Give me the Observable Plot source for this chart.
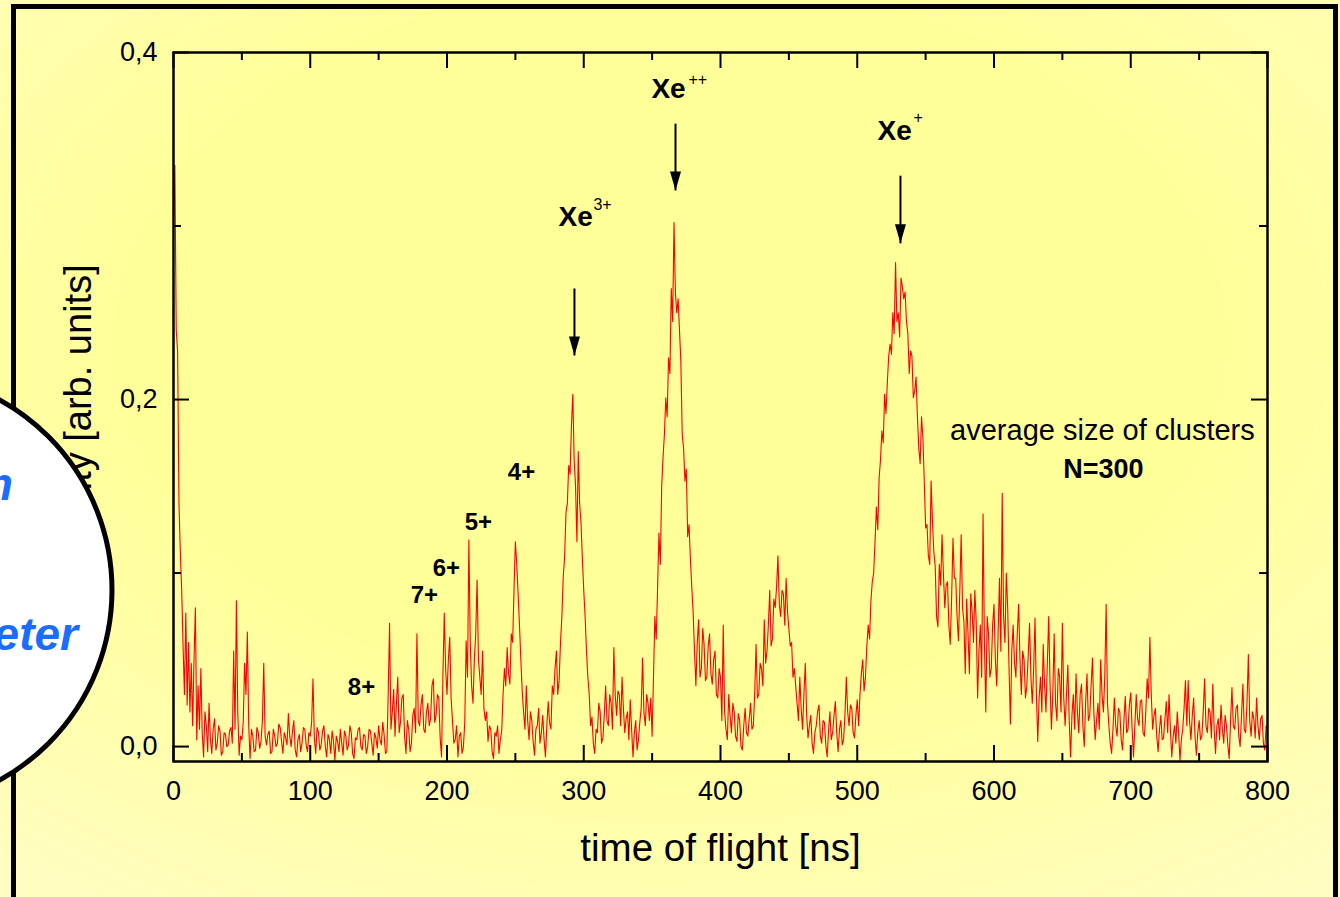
<!DOCTYPE html>
<html><head><meta charset="utf-8">
<script src="https://cdn.jsdelivr.net/npm/d3@7"></script>
<script src="https://cdn.jsdelivr.net/npm/@observablehq/plot@0.6"></script>
<style>
html,body{margin:0;padding:0;background:#fffdb8;}
#wrap{position:relative;width:1340px;height:897px;overflow:hidden;
 background: radial-gradient(ellipse 80% 78% at 50% 38%, #ffff99 50%, #fffdc2 100%);
 font-family:"Liberation Sans", Arial, sans-serif;}
#border{position:absolute;left:11px;top:4px;width:1317px;height:900px;border-left:5px solid #000;border-top:5px solid #000;border-right:5px solid #000;}
#chart{position:absolute;left:0;top:0;}
#overlay{position:absolute;left:0;top:0;pointer-events:none;}
</style></head>
<body>
<div id="wrap"><div id="border"></div><div id="chart"></div><svg id="overlay" width="1340" height="897"></svg></div>
<script>
const sampleStepNs = 1;
const intensity = [
0.30,0.335,0.24,0.228,0.14,0.112,0.09,0.058,0.03,0.077,0.024,0.06,0.02,0.048,0.012,0.05,0.08,0.004,0.035,0.01,
0.045,0.008,-0.006,0.020,0.012,-0.003,0.025,0.004,-0.004,0.010,0.016,-0.002,0.002,0.012,0.009,-0.005,-0.003,0.008,0.007,0.000,
0.001,0.009,0.011,0.002,0.055,0.010,0.084,0.020,-0.005,0.006,0.004,0.014,0.048,0.030,0.066,0.012,-0.007,0.010,0.006,-0.003,
-0.002,0.011,0.008,-0.001,0.003,0.015,0.048,0.006,0.001,0.007,0.009,-0.004,-0.003,0.010,0.006,0.000,0.002,0.013,0.011,0.003,
-0.004,0.008,0.005,0.001,0.019,0.006,0.000,0.009,0.015,-0.002,-0.006,0.004,0.007,-0.003,0.002,0.011,0.010,0.001,-0.003,0.008,
0.006,0.014,0.039,0.005,-0.004,0.011,0.008,-0.002,0.001,0.009,0.012,0.000,-0.006,0.007,0.004,-0.004,0.009,0.003,-0.008,0.006,
0.003,-0.003,0.010,0.002,-0.005,0.009,0.006,-0.002,0.001,0.012,0.008,-0.004,-0.007,0.005,0.004,0.010,0.011,0.000,-0.002,0.007,
0.006,-0.004,0.000,0.010,0.009,0.002,-0.005,0.008,0.005,-0.001,0.012,0.004,0.001,0.014,0.007,-0.004,-0.003,0.030,0.071,0.010,
0.020,0.033,0.006,0.025,0.040,0.008,0.014,0.028,0.030,0.006,-0.004,0.015,0.010,-0.003,0.002,0.018,0.022,0.008,0.065,0.015,
0.012,0.024,0.030,0.010,0.008,0.020,0.025,0.012,0.016,0.035,0.039,0.014,0.018,0.030,0.028,0.005,-0.006,0.040,0.077,0.045,
0.030,0.050,0.063,0.028,0.015,0.002,0.004,0.012,-0.006,0.006,0.008,-0.004,0.000,0.014,0.061,0.040,0.119,0.060,0.035,0.025,
0.050,0.065,0.096,0.050,0.040,0.030,0.055,0.022,0.015,0.020,0.003,0.012,0.010,-0.003,-0.007,0.008,0.006,0.012,-0.004,0.004,
0.009,0.030,0.045,0.035,0.057,0.042,0.036,0.065,0.060,0.090,0.118,0.105,0.088,0.070,0.050,0.032,0.020,0.010,0.035,0.015,
0.004,0.020,0.015,0.003,-0.005,0.010,0.012,0.022,0.002,0.008,0.018,0.004,-0.006,0.012,0.026,0.014,0.010,0.035,0.030,0.045,
0.055,0.030,0.038,0.060,0.075,0.098,0.109,0.135,0.140,0.162,0.157,0.185,0.203,0.165,0.150,0.118,0.170,0.140,0.129,0.108,
0.090,0.075,0.055,0.040,0.030,0.012,0.017,0.002,-0.004,0.010,0.008,0.025,0.020,0.002,0.005,0.018,0.035,0.015,0.012,0.030,
0.025,0.010,0.057,0.030,0.018,0.032,0.030,0.012,0.040,0.022,0.008,0.016,0.020,0.004,0.027,0.010,-0.006,0.008,0.015,-0.002,
0.004,0.014,0.022,0.051,0.020,0.012,0.030,0.025,0.015,0.028,0.006,0.040,0.075,0.062,0.092,0.123,0.105,0.150,0.167,0.180,
0.201,0.190,0.224,0.215,0.264,0.245,0.302,0.262,0.250,0.258,0.240,0.222,0.180,0.172,0.153,0.160,0.121,0.128,0.108,0.092,
0.077,0.055,0.035,0.060,0.073,0.040,0.045,0.068,0.059,0.038,0.040,0.058,0.065,0.042,0.036,0.050,0.055,0.030,0.028,0.045,
0.040,0.015,0.070,0.020,0.010,0.004,0.030,0.018,0.008,0.025,0.020,0.006,0.003,0.019,0.015,0.000,-0.002,0.012,0.022,0.008,
0.006,0.016,0.025,0.010,0.012,0.030,0.059,0.028,0.030,0.048,0.045,0.035,0.073,0.048,0.055,0.070,0.090,0.058,0.062,0.085,
0.080,0.092,0.110,0.082,0.075,0.090,0.088,0.070,0.097,0.078,0.068,0.058,0.060,0.040,0.045,0.035,0.025,0.015,0.040,0.022,
0.010,0.030,0.048,0.018,0.005,0.012,0.018,0.002,-0.004,0.008,0.012,0.020,0.024,0.006,0.002,0.015,0.014,0.001,-0.006,0.009,
0.020,0.004,0.008,0.018,0.026,0.008,-0.003,0.010,0.015,0.001,0.004,0.018,0.040,0.020,0.012,0.024,0.022,0.008,0.005,0.018,
0.027,0.012,0.030,0.042,0.050,0.032,0.040,0.058,0.070,0.062,0.084,0.095,0.100,0.118,0.138,0.125,0.155,0.165,0.182,0.175,
0.203,0.192,0.210,0.225,0.232,0.226,0.250,0.238,0.279,0.245,0.250,0.236,0.270,0.265,0.258,0.262,0.245,0.238,0.215,0.228,
0.225,0.201,0.205,0.213,0.190,0.172,0.163,0.190,0.178,0.153,0.126,0.128,0.110,0.105,0.153,0.130,0.112,0.104,0.075,0.069,
0.105,0.093,0.122,0.100,0.080,0.093,0.095,0.070,0.059,0.085,0.120,0.097,0.097,0.075,0.061,0.090,0.122,0.080,0.072,0.042,
0.085,0.065,0.042,0.088,0.078,0.060,0.090,0.072,0.028,0.055,0.070,0.040,0.134,0.060,0.020,0.075,0.065,0.040,0.045,0.070,
0.082,0.050,0.035,0.065,0.097,0.055,0.146,0.075,0.060,0.100,0.080,0.045,0.013,0.055,0.070,0.048,0.040,0.065,0.082,0.050,
0.030,0.055,0.050,0.028,0.035,0.052,0.071,0.040,0.025,0.045,0.074,0.030,0.003,0.028,0.040,0.020,0.059,0.035,0.020,0.048,
0.075,0.035,0.010,0.030,0.065,0.025,0.015,0.045,0.040,0.020,0.071,0.028,0.012,0.030,0.047,0.015,-0.006,0.018,0.030,0.010,
0.042,0.020,0.008,0.030,0.036,0.012,0.000,0.025,0.042,0.015,0.018,0.035,0.051,0.020,0.004,0.015,0.025,0.010,0.050,0.030,
0.020,0.040,0.082,0.025,0.012,0.002,-0.004,0.010,0.028,0.012,0.006,0.022,0.020,0.004,-0.002,0.015,0.029,0.008,0.010,0.024,
0.031,0.010,-0.006,0.012,0.030,0.016,0.012,0.026,0.027,0.008,0.006,0.020,0.039,0.028,0.063,0.030,0.010,0.018,0.022,0.006,
-0.003,0.010,0.018,0.004,0.005,0.016,0.026,0.008,0.030,0.010,-0.006,0.006,0.012,0.002,0.020,0.008,-0.008,0.004,0.010,0.022,
0.038,0.012,0.038,0.015,0.004,0.018,0.028,0.006,-0.005,0.008,0.015,0.004,0.006,0.020,0.039,0.012,0.008,0.022,0.020,0.005,
0.036,0.010,-0.004,0.012,0.016,0.004,0.024,0.010,0.002,0.018,0.012,0.001,-0.007,0.015,0.034,0.012,0.010,0.022,0.024,0.006,
0.000,0.018,0.036,0.010,0.008,0.025,0.053,0.015,0.006,0.020,0.016,0.005,0.028,0.012,0.004,0.016,0.018,0.002,-0.002,0.012,
0.010
];

const xMajor = [0,100,200,300,400,500,600,700,800];
const xMinor = [50,150,250,350,450,550,650,750];
const yMajor = [0,0.2,0.4];
const yMinor = [0.1,0.3];

const chargeLabels = ["4+","5+","6+","7+","8+"];
const chargeT = [254.5,222.9,199.6,183.5,137.5];
const chargeV = [0.158,0.129,0.103,0.087,0.034];

const ionBase = ["Xe","Xe","Xe"];
const ionSup = ["++","+","3+"];
const ionT = [349.5,514.8,281.5];
const ionV = [0.379,0.355,0.305];
const ionSupT = [376.6,541.1,307.1];
const ionSupV = [0.384,0.3625,0.312];

const arrowT = [367.1,531.6,293.2];
const arrowFromV = [0.359,0.329,0.264];
const arrowTipV = [0.3205,0.290,0.2254];

const noteText = "average size of clusters";
const noteSize = "N=300";
const noteT = [679.3,680];
const noteV = [0.182,0.160];

const xLabel = "time of flight [ns]";
const yLabel = "intensity [arb. units]";

const rows = intensity.map((v,i)=>({t:i*sampleStepNs, v}));
const ions = ionBase.map((b,i)=>({b, s:ionSup[i], t:ionT[i], v:ionV[i], st:ionSupT[i], sv:ionSupV[i]}));
const arrows = arrowT.map((t,i)=>({t, v1:arrowFromV[i], v2:arrowTipV[i]}));
const charges = chargeLabels.map((l,i)=>({l, t:chargeT[i], v:chargeV[i]}));

const W=1340, H=897, mL=173, mR=73, mT=52, mB=136;
const fh = H-mT-mB, fw = W-mL-mR;
const fmtY = d => d3.format(".1f")(d).replace(".", ",");
const arrowHead = {draw(ctx){ctx.moveTo(0,0);ctx.lineTo(-5.5,-19);ctx.lineTo(5.5,-19);ctx.closePath();}};
const tk = {stroke:"#000", strokeWidth:2};

const chart = Plot.plot({
  width:W, height:H, marginLeft:mL, marginRight:mR, marginTop:mT, marginBottom:mB,
  style:{fontFamily:'"Liberation Sans", Arial, sans-serif', background:"transparent", overflow:"visible", color:"#000"},
  x:{domain:[0,800]},
  y:{domain:[-0.0086,0.4]},
  marks:[
    Plot.line(rows,{x:"t", y:"v", stroke:"#ff0000", strokeWidth:1.1, clip:true}),
    Plot.tickX(xMajor,{x:d=>d, insetTop:fh-16, ...tk}),
    Plot.tickX(xMinor,{x:d=>d, insetTop:fh-8, ...tk}),
    Plot.tickX(xMajor,{x:d=>d, insetBottom:fh-16, ...tk}),
    Plot.tickX(xMinor,{x:d=>d, insetBottom:fh-8, ...tk}),
    Plot.tickY(yMajor,{y:d=>d, insetRight:fw-16, ...tk}),
    Plot.tickY(yMinor,{y:d=>d, insetRight:fw-8, ...tk}),
    Plot.tickY(yMajor,{y:d=>d, insetLeft:fw-16, ...tk}),
    Plot.tickY(yMinor,{y:d=>d, insetLeft:fw-8, ...tk}),
    Plot.frame({stroke:"#000", strokeWidth:2.5}),
    Plot.axisX({ticks:xMajor, tickSize:0, tickPadding:19, fontSize:27, label:null, tickFormat:d=>String(d)}),
    Plot.axisY({ticks:yMajor, tickSize:0, tickPadding:16, fontSize:27, label:null, tickFormat:fmtY}),
    Plot.text([xLabel],{text:d=>d, frameAnchor:"bottom", lineAnchor:"middle", dy:87, fontSize:38.5}),
    Plot.text([yLabel],{text:d=>d, frameAnchor:"left", textAnchor:"middle", lineAnchor:"middle", rotate:-90, dx:-95, dy:21, fontSize:38}),
    Plot.link(arrows,{x1:"t", x2:"t", y1:"v1", y2:"v2", stroke:"#000", strokeWidth:2}),
    Plot.dot(arrows,{x:"t", y:"v2", symbol:arrowHead, fill:"#000", stroke:"none"}),
    Plot.text(ions,{x:"t", y:"v", text:"b", textAnchor:"start", fontWeight:"bold", fontSize:28}),
    Plot.text(ions,{x:"st", y:"sv", text:"s", textAnchor:"start", fontSize:16}),
    Plot.text(charges,{x:"t", y:"v", text:"l", fontWeight:"bold", fontSize:24}),
    Plot.text([noteText],{x:noteT[0], y:noteV[0], text:d=>d, fontSize:29}),
    Plot.text([noteSize],{x:noteT[1], y:noteV[1], text:d=>d, fontWeight:"bold", fontSize:27})
  ]
});
document.getElementById("chart").appendChild(chart);

const ov = d3.select("#overlay");
ov.append("circle").attr("cx",-105).attr("cy",590).attr("r",217).attr("fill","#fff").attr("stroke","#000").attr("stroke-width",5);
ov.append("text").attr("x",13).attr("y",500).attr("text-anchor","end").attr("font-family",'"Liberation Sans", Arial, sans-serif').attr("font-weight","bold").attr("font-style","italic").attr("font-size",46).attr("fill","#1a6dff").text("m");
ov.append("text").attr("x",78).attr("y",650).attr("text-anchor","end").attr("font-family",'"Liberation Sans", Arial, sans-serif').attr("font-weight","bold").attr("font-style","italic").attr("font-size",46).attr("fill","#1a6dff").text("eter");
</script>
</body></html>
